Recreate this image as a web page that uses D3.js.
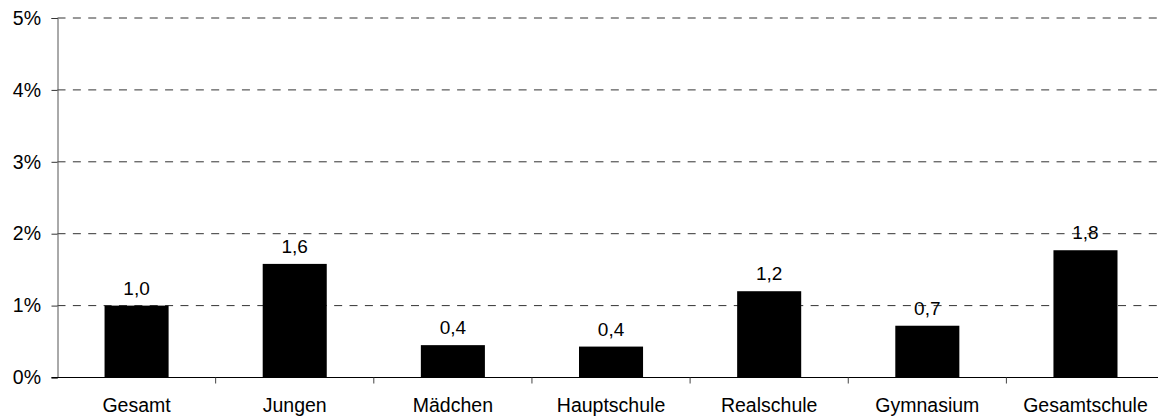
<!DOCTYPE html>
<html><head><meta charset="utf-8">
<script src="https://cdn.jsdelivr.net/npm/d3@7"></script>
<style>html,body{margin:0;padding:0;background:#fff;}svg{display:block;}</style>
</head><body>
<svg id="c" width="1158" height="419"></svg>
<script>
const categories = ["Gesamt","Jungen","Mädchen","Hauptschule","Realschule","Gymnasium","Gesamtschule"];
const values = [1.0, 1.58, 0.45, 0.43, 1.2, 0.72, 1.77];
const valueLabels = ["1,0","1,6","0,4","0,4","1,2","0,7","1,8"];
const yTicks = [0,1,2,3,4,5];

const svg = d3.select("#c");
const font = "'Liberation Sans', Arial, sans-serif";
const x0 = 57.5, bw = 158.15;
const x = d3.scaleBand().domain(categories).range([x0, x0 + bw*categories.length]).padding(0);
const y = d3.scaleLinear().domain([0,5]).range([377.5, 18]);

// gridlines
svg.append("g").selectAll("line").data(yTicks.filter(d=>d>0)).join("line")
  .attr("x1", x0).attr("x2", 1158)
  .attr("y1", d=>y(d)).attr("y2", d=>y(d))
  .attr("stroke", "#333").attr("stroke-width", 1)
  .attr("stroke-dasharray", "8,7.37");

// bars
const barW = bw*0.405;
svg.append("g").selectAll("rect").data(values).join("rect")
  .attr("x", (d,i)=>x(categories[i]) + (x.bandwidth()-barW)/2)
  .attr("width", barW)
  .attr("y", d=>y(d))
  .attr("height", d=>y(0)-y(d))
  .attr("fill", "#000");

// value labels
svg.append("g").selectAll("text").data(values).join("text")
  .attr("x", (d,i)=>x(categories[i]) + x.bandwidth()/2)
  .attr("y", d=>y(d) - 11)
  .attr("text-anchor","middle")
  .attr("font-family", font).attr("font-size", 19).attr("fill","#000")
  .text((d,i)=>valueLabels[i]);

// y axis
const yAxis = d3.axisLeft(y).tickValues(yTicks).tickSize(6).tickPadding(10).tickFormat(d=>d+"%");
const gy = svg.append("g").attr("transform", `translate(${x0},0)`).call(yAxis);
gy.select(".domain").attr("stroke","#555");
gy.selectAll(".tick line").attr("stroke","#333");
gy.selectAll(".tick text").attr("font-family", font).attr("font-size", 19.5).attr("fill","#000").attr("x", -16.5);

// x axis
const xAxis = d3.axisBottom(x).tickSize(0).tickPadding(0);
const gx = svg.append("g").attr("transform", `translate(0,${y(0)})`).call(xAxis);
gx.select(".domain").remove();
gx.append("line").attr("x1", x0-6).attr("x2", 1158).attr("y1",0).attr("y2",0).attr("stroke","#000");
gx.selectAll(".tick text").attr("font-family", font).attr("font-size", 19.5).attr("fill","#000").attr("dy", null).attr("y", 34.5);
// boundary ticks
const bounds = d3.range(1, categories.length).map(i => x0 + bw*i);
gx.selectAll(".btick").data(bounds).join("line").attr("class","btick")
  .attr("x1", d=>d).attr("x2", d=>d).attr("y1", 0).attr("y2", 6).attr("stroke","#444");
</script>
</body></html>
